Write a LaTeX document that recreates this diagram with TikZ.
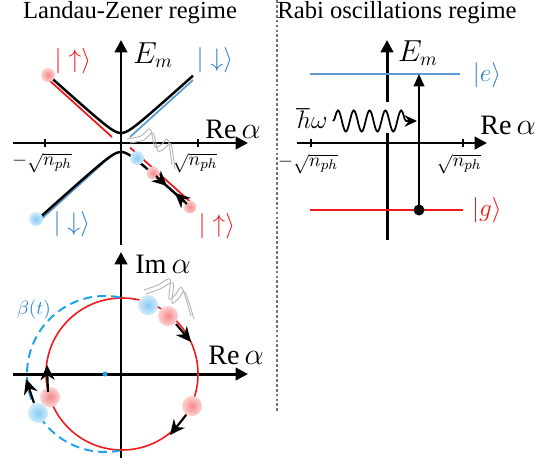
\documentclass[tikz,border=0pt]{standalone}
\usepackage{fontspec}
\setmainfont{Liberation Serif}
\usetikzlibrary{arrows.meta,decorations.pathmorphing}
\definecolor{cRed}{HTML}{F01818}
\definecolor{cSteel}{HTML}{5B9BD5}
\definecolor{cKet}{HTML}{2A80CC}
\definecolor{cDash}{HTML}{1AA3E8}
\definecolor{cBeta}{HTML}{2F86C9}
\definecolor{cPinkIn}{HTML}{F48888}
\definecolor{cPinkOut}{HTML}{FBD3D3}
\definecolor{cSkyIn}{HTML}{86CBF4}
\definecolor{cSkyOut}{HTML}{D2EBFB}
\tikzset{
  axis/.style={line width=1.7pt, -{Triangle[length=7pt,width=7pt]}},
  axisline/.style={line width=1.7pt},
  tk/.style={line width=1pt},
  hyp/.style={line width=1.4pt, draw=black},
  redln/.style={line width=1pt, draw=cRed},
  blueln/.style={line width=1pt, draw=cSteel},
  mv/.style={line width=1.2pt, -{Stealth[length=8.5pt,width=8pt]}},
  pdot/.style={inner color=cPinkIn, outer color=cPinkOut},
  bdot/.style={inner color=cSkyIn, outer color=cSkyOut},
  ttl/.style={font=\fontsize{14}{16}\selectfont, inner sep=0pt},
  lbl/.style={font=\fontsize{16}{18}\selectfont, inner sep=0pt},
  ket/.style={font=\fontsize{15.5}{17}\selectfont, inner sep=0pt},
  ticklbl/.style={font=\fontsize{11}{13}\selectfont, inner sep=0pt},
  wisp/.style={draw=black!30, line width=0.5pt},
  orbit/.style={draw=cRed, line width=0.9pt},
  drift/.style={draw=cDash, line width=1.1pt, dash pattern=on 5pt off 3pt},
  divider/.style={draw=black!55, line width=0.8pt, dash pattern=on 1.6pt off 1.2pt},
  pump/.style={line width=1.1pt, -{Triangle[length=7pt,width=6pt]}},
  photon/.style={line width=1pt, -{Stealth[length=7pt,width=6.5pt]}, decorate,
                 decoration={snake, amplitude=6pt, segment length=9pt, post length=6pt}},
  gdot/.style={circle, fill=black, inner sep=0pt, minimum size=2.2mm},
}

\begin{document}
\begin{tikzpicture}[x=0.2mm,y=-0.2mm]
\useasboundingbox (0,0) rectangle (557,464);

% ================================================== left, top: Landau-Zener
\node[ttl] (tLZ) at (130,13) {Landau-Zener regime};
\draw[axis] (121,245) -- (121,40);
\draw[axis] (13,143) -- (248,143);
\foreach \t in {45,198} \draw[tk] (\t,139) -- (\t,147);
\node[ticklbl] (lzM) at (42,163) {$-\sqrt{n_{ph}}$};
\node[ticklbl] (lzP) at (195,163) {$\sqrt{n_{ph}}$};
\node[lbl] (lzE) at (153,55) {$E_m$};
\node[lbl] (lzRe) at (233,129) {$\mathrm{Re}\,\alpha$};

% diabatic lines under the adiabatic branches
\draw[redln] (49,80) -- (112,137);
\draw[blueln] (130,137) -- (193,80);
\draw[blueln] (112,155) -- (37,223);
\draw[redln] (130,147.5) -- (191,202.5);
\draw[hyp] plot[domain=-72:72, samples=73] ({121+\x},{141-sqrt((0.9*\x)^2+64)});
\draw[hyp] plot[domain=-84:64, samples=75] ({121+\x},{144+sqrt((0.9*\x)^2+64)});

% wave packet sketch
\draw[wisp] plot[smooth] coordinates {(127,139) (141,136) (150,129) (155,147) (162,144) (168,140) (172,165)};
\draw[wisp] plot[smooth] coordinates {(130,143) (144,140) (153,133) (158,151) (165,148) (171,144) (175,169)};

\shade[pdot] (48,75) circle[radius=7];
\shade[bdot] (36,219) circle[radius=7];
\shade[bdot] (137,158) circle[radius=7];
\shade[pdot] (153,173) circle[radius=6.5];
\shade[pdot] (190,207) circle[radius=6.5];
\draw[mv] (156,176) -- (167,186);
\draw[mv] (187,204) -- (175,193);

\node[ket, text=cRed] (lzUpA) at (73,61) {$|\uparrow\rangle$};
\node[ket, text=cKet] (lzDnA) at (215,60) {$|\downarrow\rangle$};
\node[ket, text=cKet] (lzDnB) at (72,224) {$|\downarrow\rangle$};
\node[ket, text=cRed] (lzUpB) at (217,226) {$|\uparrow\rangle$};

% ================================================== left, bottom: phase space
\draw[axis] (121,458) -- (121,252);
\draw[axis] (13,374) -- (248,374);
\node[lbl] (psIm) at (163,264) {$\mathrm{Im}\,\alpha$};
\node[lbl] (psRe) at (236,355) {$\mathrm{Re}\,\alpha$};

\draw[orbit] (122,374) circle[radius=76];
\draw[drift] (119.9,297.4) arc[start angle=-79, end angle=-281, radius=78];
\node[ticklbl, text=cBeta] (psBeta) at (34,310) {$\beta(t)$};
\fill[cDash] (105,374) circle[radius=2.5];

\draw[wisp] plot[smooth] coordinates {(144,290) (158,285) (170,279) (169,299) (176,294) (182,288) (191,316)};
\draw[wisp] plot[smooth] coordinates {(146,294) (160,289) (173,283) (172,303) (179,298) (185,292) (194,319)};

\shade[bdot] (148,305) circle[radius=10];
\shade[pdot] (168,316) circle[radius=10];
\shade[pdot] (192,406) circle[radius=10];
\shade[pdot] (50,397) circle[radius=10];
\shade[bdot] (38,413) circle[radius=10];

\draw[mv] (176,324) -- (191,342);
\draw[mv] (186,415) -- (170,435);
\draw[mv] (48,392) -- (47,365);
\draw[mv] (34,403) -- (26,379);

% ================================================== divider
\draw[divider] (277,0) -- (277,412);

% ================================================== right: Rabi
\node[ttl] (tRabi) at (397,13) {Rabi oscillations regime};
\draw[axis] (297,143) -- (487,143);
\draw[axisline] (387,240) -- (387,133);
\draw[axis] (387,102) -- (387,40);
\foreach \t in {311,463} \draw[tk] (\t,139) -- (\t,147);
\node[ticklbl] (rbM) at (308,164) {$-\sqrt{n_{ph}}$};
\node[ticklbl] (rbP) at (459,164) {$\sqrt{n_{ph}}$};
\node[lbl] (rbE) at (418,53) {$E_m$};
\node[lbl] (rbRe) at (508,125) {$\mathrm{Re}\,\alpha$};

\draw[blueln] (310,74) -- (460,74);
\draw[redln] (310,210) -- (463,210);
\node[ket, text=cKet] (rbKe) at (487,75) {$|e\rangle$};
\node[ket, text=cRed] (rbKg) at (487,210) {$|g\rangle$};

\node[gdot] (rbDot) at (419,210) {};
\coordinate (rbTop) at (419,74);
\draw[pump] (rbDot.center) -- (rbTop);

\node[lbl, font=\fontsize{15}{17}\selectfont] (rbHw) at (312,119) {$\hbar\omega$};
\coordinate (rbWaveStart) at (333,121);
\coordinate (rbWaveEnd) at (417,121);
\draw[photon] (rbWaveStart) -- (rbWaveEnd);

\end{tikzpicture}
\end{document}
